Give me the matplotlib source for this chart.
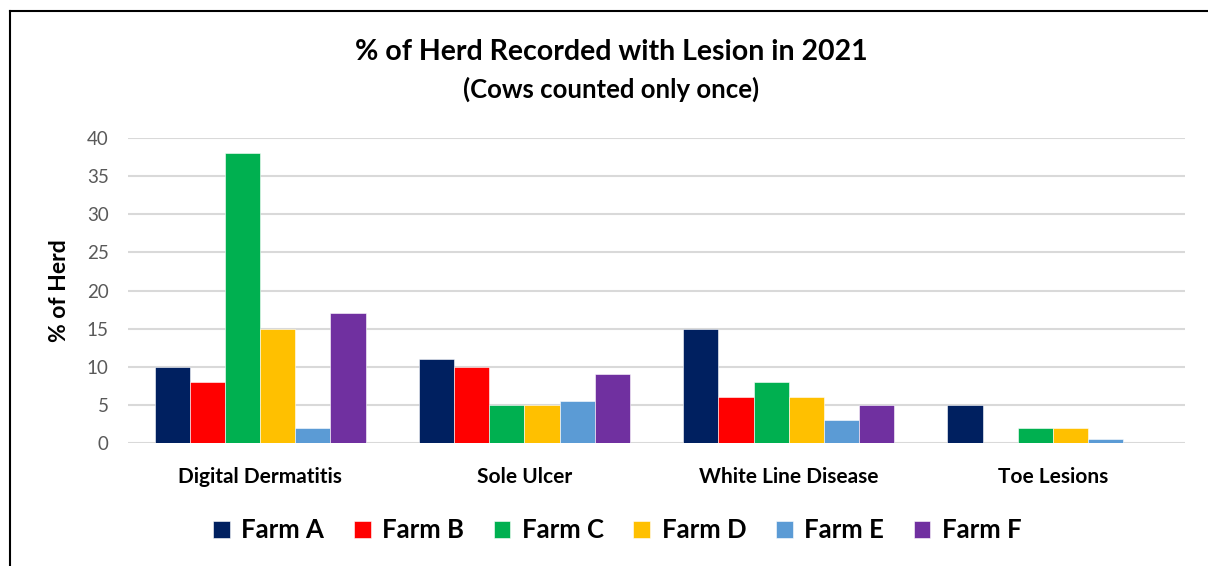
import numpy as np
import matplotlib
matplotlib.use("Agg")
import matplotlib.pyplot as plt
from matplotlib.lines import Line2D

plt.rcParams['font.family'] = ['Lato', 'DejaVu Sans']

# donnees
lesions = ["Digital Dermatitis", "Sole Ulcer", "White Line Disease", "Toe Lesions"]
farms = ["Farm A", "Farm B", "Farm C", "Farm D", "Farm E", "Farm F"]
farm_a = [10, 11, 15, 5]
farm_b = [8, 10, 6, 0]
farm_c = [38, 5, 8, 2]
farm_d = [15, 5, 6, 2]
farm_e = [2, 5.5, 3, 0.5]
farm_f = [17, 9, 5, 0]
colors = ["#002060", "#FF0000", "#00B050", "#FFC000", "#5B9BD5", "#7030A0"]

series = [farm_a, farm_b, farm_c, farm_d, farm_e, farm_f]

fig = plt.figure(figsize=(12.08, 5.66), dpi=100)
ax = fig.add_axes([0.106, 0.2173, 0.875, 0.5388])

x = np.arange(len(lesions))
w = 0.133
for i, (vals, name) in enumerate(zip(series, farms)):
    ax.bar(x + (i - 2.5) * w, vals, width=w, color=colors[i], label=name,
           edgecolor="white", linewidth=0.4, zorder=3)

ax.set_xlim(-0.5, 3.5)
ax.set_ylim(0, 40)
ax.set_yticks(range(0, 41, 5))
ax.grid(axis="y", color="#d9d9d9", linewidth=1.5, zorder=0)
ax.tick_params(axis="y", length=0, labelsize=13.5, labelcolor="#595959", pad=14)
ax.tick_params(axis="x", length=0, pad=17)
ax.set_xticks(x)
ax.set_xticklabels(lesions, fontsize=15, fontweight="bold")
for s in ax.spines.values():
    s.set_visible(False)

ax.set_ylabel("% of Herd", fontsize=16.5, fontweight="bold", labelpad=12)

fig.text(0.506, 0.908, "% of Herd Recorded with Lesion in 2021", ha="center", va="center",
         fontsize=20.5, fontweight="bold")
fig.text(0.506, 0.842, "(Cows counted only once)", ha="center", va="center",
         fontsize=18.5, fontweight="bold")

leg = fig.legend(loc="center", bbox_to_anchor=(0.511, 0.063), ncol=6, frameon=False,
                 prop={"weight": "bold", "size": 18.5},
                 handlelength=0.65, handleheight=0.65, handletextpad=0.45, columnspacing=1.15)

# cadre
fig.add_artist(Line2D([0.0083, 0.0083], [0, 0.981], color="black", linewidth=1.5))
fig.add_artist(Line2D([0.0083, 1.0], [0.981, 0.981], color="black", linewidth=1.5))

fig.savefig("out.png", dpi=100)
